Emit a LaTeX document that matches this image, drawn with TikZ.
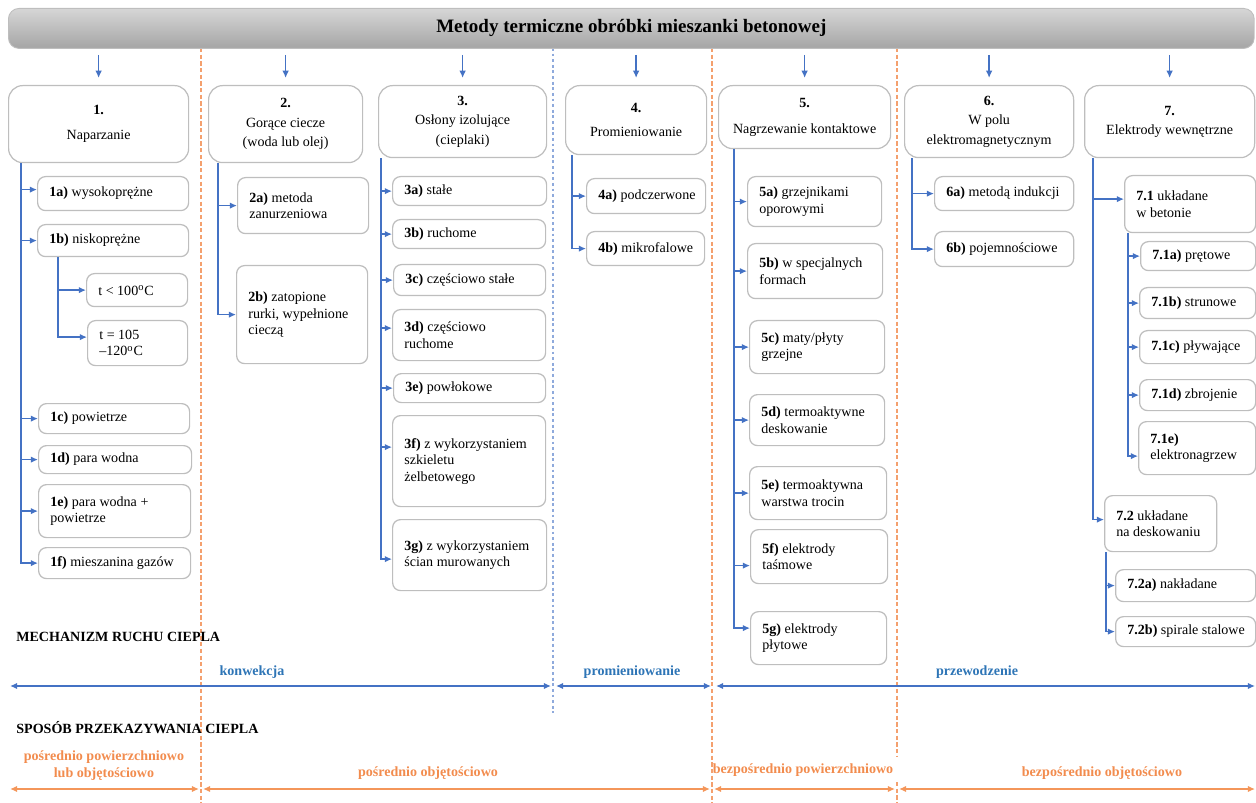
\documentclass[tikz,border=0pt]{standalone}
\usepackage{fontspec}
\setmainfont{Liberation Serif}
\usetikzlibrary{arrows.meta,calc}
\definecolor{lblue}{RGB}{68,114,196}
\definecolor{tblue}{RGB}{46,117,182}
\definecolor{dblue}{RGB}{143,170,220}
\definecolor{oline}{RGB}{244,150,90}
\definecolor{otext}{RGB}{242,140,78}
\definecolor{odash}{RGB}{244,160,110}
\definecolor{bgray}{RGB}{190,190,190}
\definecolor{ttop}{RGB}{214,214,214}
\definecolor{tbot}{RGB}{165,165,165}
\tikzset{
  fnt/.style={font=\fontsize{8}{9.4}\selectfont},
  sbox/.style={draw=bgray, line width=0.7pt, fill=white, rounded corners=4.5pt, inner sep=0pt},
  stext/.style={fnt, align=left, inner sep=0pt},
  mbox/.style={draw=bgray, line width=0.7pt, fill=white, rounded corners=8pt, inner sep=1pt, align=center, font=\fontsize{8}{11}\selectfont},
  conn/.style={draw=lblue, line width=0.8pt, -{Latex[length=4pt,width=3.6pt]}},
  arr/.style={draw=lblue, line width=0.8pt, -{Latex[length=4.2pt,width=3.8pt]}},
  barr/.style={draw=lblue, line width=0.8pt, {Latex[length=4pt,width=3.6pt]}-{Latex[length=4pt,width=3.6pt]}},
  oarr/.style={draw=oline, line width=0.9pt, {Latex[length=4pt,width=3.6pt]}-{Latex[length=4pt,width=3.6pt]}},
  blab/.style={font=\fontsize{8}{9.4}\selectfont\bfseries, text=tblue, inner sep=1pt},
  olab/.style={font=\fontsize{8}{9.6}\selectfont\bfseries, text=otext, inner sep=1pt, align=center},
  hdr/.style={font=\fontsize{8}{9.4}\selectfont\bfseries, inner sep=0pt},
  odashed/.style={draw=odash, line width=0.6pt, dash pattern=on 2.4pt off 1.4pt},
  bdotted/.style={draw=dblue, line width=0.7pt, dash pattern=on 1.6pt off 1.6pt},
}
\newcommand\sbx[6]{%
  \pgfmathsetmacro\bw{(#4-#2)*0.02}\pgfmathsetmacro\bh{(#5-#3)*0.02}%
  \node[sbox, minimum width=\bw cm, minimum height=\bh cm, anchor=north west] (#1) at (#2,#3) {};%
  \node[stext, anchor=west] (#1t) at ($(#1.west)+(12,0)$) {#6};}
\newcommand\mbx[6]{%
  \pgfmathsetmacro\bw{(#4-#2)*0.02}\pgfmathsetmacro\bh{(#5-#3)*0.02}%
  \node[mbox, minimum width=\bw cm, minimum height=\bh cm, anchor=north west] (#1) at (#2,#3) {#6};}
\begin{document}
\begin{tikzpicture}[x=0.02cm,y=-0.02cm]
\useasboundingbox (0,0) rectangle (1256,803);
% separators
\draw[odashed] (201,48) -- (201,803);
\draw[bdotted] (553,48) -- (553,713);
\draw[odashed] (712,48) -- (712,803);
\draw[odashed] (897,48) -- (897,757);
\draw[odashed] (897,782) -- (897,803);
% title
\node[draw=bgray, line width=0.5pt, top color=ttop, bottom color=tbot, rounded corners=6pt,
  minimum width=24.92cm, minimum height=0.8cm, anchor=north west,
  font=\fontsize{10.8}{13}\selectfont\bfseries] (title) at (8,8) {Metody termiczne obróbki mieszanki betonowej};
% main boxes
\mbx{b1}{8}{85}{188}{162}{\textbf{1.}\\[3.5pt]Naparzanie}
\mbx{b2}{208}{85}{362}{162}{\textbf{2.}\\Gorące ciecze\\(woda lub olej)}
\mbx{b3}{378}{85}{546}{157}{\textbf{3.}\\Osłony izolujące\\(cieplaki)}
\mbx{b4}{565}{85}{706}{154}{\textbf{4.}\\[3pt]Promieniowanie}
\mbx{b5}{718}{85}{890}{148}{\textbf{5.}\\[4pt]Nagrzewanie kontaktowe}
\mbx{b6}{904}{85}{1073}{157}{\textbf{6.}\\W polu\\elektromagnetycznym}
\mbx{b7}{1084}{85}{1254}{157}{\textbf{7.}\\Elektrody wewnętrzne}
\foreach \b in {b1,b2,b3,b4,b5,b6,b7}
  \draw[arr] ($(\b.north |- title.south)+(0,6)$) -- ($(\b.north)+(0,-7)$);
% column 1
\sbx{b1a}{37}{176}{188}{210}{\textbf{1a)} wysokoprężne}
\sbx{b1b}{37}{224}{188}{256}{\textbf{1b)} niskoprężne}
\sbx{b1t1}{86}{273}{187}{306}{t < 100\textsuperscript{o}C}
\sbx{b1t2}{87}{320}{187}{365}{t = 105\\–120\textsuperscript{o}C}
\sbx{b1c}{38}{403}{189}{433}{\textbf{1c)} powietrze}
\sbx{b1d}{38}{445}{191}{473}{\textbf{1d)} para wodna}
\sbx{b1e}{38}{484}{190}{537}{\textbf{1e)} para wodna +\\powietrze}
\sbx{b1f}{38}{547}{190}{578}{\textbf{1f)} mieszanina gazów}
\coordinate (t1) at ($(b1.south west)+(13,0)$);
\foreach \c in {b1b,b1c,b1d,b1e,b1f} \draw[conn] (t1) |- (\c.west);
\draw[conn] (t1) |- ($(b1a.west)+(0,-4)$);
\coordinate (t1b) at ($(b1b.south west)+(21,0)$);
\draw[conn] (t1b) |- (b1t1.west);
\draw[conn] (t1b) |- ($(b1t2.west)+(0,-6)$);
% column 2
\sbx{b2a}{237}{177}{368}{233}{\textbf{2a)} metoda\\zanurzeniowa}
\sbx{b2b}{236}{265}{367}{363}{\textbf{2b)} zatopione\\rurki, wypełnione\\cieczą}
\coordinate (t2) at ($(b2.south west)+(10,0)$);
\foreach \c in {b2a,b2b} \draw[conn] (t2) |- (\c.west);
% column 3
\sbx{b3a}{392}{176}{546}{205}{\textbf{3a)} stałe}
\sbx{b3b}{392}{219}{545}{248}{\textbf{3b)} ruchome}
\sbx{b3c}{393}{264}{545}{295}{\textbf{3c)} częściowo stałe}
\sbx{b3d}{392}{309}{545}{360}{\textbf{3d)} częściowo\\ruchome}
\sbx{b3e}{393}{373}{545}{402}{\textbf{3e)} powłokowe}
\sbx{b3f}{392}{415}{545}{506}{\textbf{3f)} z wykorzystaniem\\szkieletu\\żelbetowego}
\sbx{b3g}{392}{519}{546}{590}{\textbf{3g)} z wykorzystaniem\\ścian murowanych}
\coordinate (t3) at ($(b3.south west)+(3,0)$);
\foreach \c in {b3a,b3b,b3c,b3e} \draw[conn] (t3) |- (\c.west);
\draw[conn] (t3) |- ($(b3d.west)+(0,-7)$);
\draw[conn] (t3) |- ($(b3f.west)+(0,-14)$);
\draw[conn] (t3) |- ($(b3g.west)+(0,4)$);
% column 4
\sbx{b4a}{586}{178}{705}{213}{\textbf{4a)} podczerwone}
\sbx{b4b}{586}{231}{704}{265}{\textbf{4b)} mikrofalowe}
\coordinate (t4) at ($(b4.south west)+(7,0)$);
\foreach \c in {b4a,b4b} \draw[conn] (t4) |- (\c.west);
% column 5
\sbx{b5a}{747}{176}{881}{226}{\textbf{5a)} grzejnikami\\oporowymi}
\sbx{b5b}{747}{243}{882}{298}{\textbf{5b)} w specjalnych\\formach}
\sbx{b5c}{749}{320}{884}{373}{\textbf{5c)} maty/płyty\\grzejne}
\sbx{b5d}{749}{394}{884}{445}{\textbf{5d)} termoaktywne\\deskowanie}
\sbx{b5e}{749}{466}{886}{519}{\textbf{5e)} termoaktywna\\warstwa trocin}
\sbx{b5f}{750}{529}{887}{583}{\textbf{5f)} elektrody\\taśmowe}
\sbx{b5g}{750}{611}{886}{664}{\textbf{5g)} elektrody\\płytowe}
\coordinate (t5) at ($(b5.south west)+(16,0)$);
\foreach \c in {b5a,b5b,b5c,b5d,b5e} \draw[conn] (t5) |- (\c.west);
\draw[conn] (t5) |- ($(b5f.west)+(0,9)$);
\draw[conn] (t5) |- ($(b5g.west)+(0,-10)$);
% column 6
\sbx{b6a}{934}{176}{1073}{210}{\textbf{6a)} metodą indukcji}
\sbx{b6b}{934}{231}{1073}{266}{\textbf{6b)} pojemnościowe}
\coordinate (t6) at ($(b6.south west)+(8,0)$);
\foreach \c in {b6a,b6b} \draw[conn] (t6) |- (\c.west);
% column 7
\sbx{b71}{1124}{175}{1255}{232}{\textbf{7.1} układane\\w betonie}
\sbx{b71a}{1140}{241}{1255}{270}{\textbf{7.1a)} prętowe}
\sbx{b71b}{1139}{287}{1255}{318}{\textbf{7.1b)} strunowe}
\sbx{b71c}{1139}{330}{1255}{363}{\textbf{7.1c)} pływające}
\sbx{b71d}{1139}{379}{1255}{410}{\textbf{7.1d)} zbrojenie}
\sbx{b71e}{1138}{421}{1255}{474}{\textbf{7.1e)}\\elektronagrzew}
\sbx{b72}{1104}{495}{1216}{551}{\textbf{7.2} układane\\na deskowaniu}
\sbx{b72a}{1115}{569}{1255}{601}{\textbf{7.2a)} nakładane}
\sbx{b72b}{1115}{616}{1255}{646}{\textbf{7.2b)} spirale stalowe}
\coordinate (t7) at ($(b7.south west)+(9,0)$);
\draw[conn] (t7) |- ($(b71.west)+(0,-5)$);
\draw[conn] (t7) |- ($(b72.west)+(0,-4)$);
\coordinate (t71) at ($(b71.south west)+(4,0)$);
\foreach \c in {b71a,b71b,b71c,b71d} \draw[conn] (t71) |- (\c.west);
\draw[conn] (t71) |- ($(b71e.west)+(0,8)$);
\coordinate (t72) at ($(b72.south west)+(2,0)$);
\foreach \c in {b72a,b72b} \draw[conn] (t72) |- (\c.west);
% bottom: mechanism
\node[hdr, anchor=west] (mech) at (16,637) {MECHANIZM RUCHU CIEPLA};
\coordinate (ka) at (10,686); \coordinate (kb) at (551,686);
\coordinate (pa) at (556,686); \coordinate (pb) at (711,686);
\coordinate (za) at (716,686); \coordinate (zb) at (1255,686);
\draw[barr] (ka) -- (kb);
\draw[barr] (pa) -- (pb);
\draw[barr] (za) -- (zb);
\node[blab] (lk) at (252,672) {konwekcja};
\node[blab] (lp) at (632,672) {promieniowanie};
\node[blab] (lz) at (977,672) {przewodzenie};
% bottom: transfer
\node[hdr, anchor=west] (spos) at (16,728) {SPOSÓB PRZEKAZYWANIA CIEPLA};
\coordinate (o1a) at (10,789); \coordinate (o1b) at (199,789);
\coordinate (o2a) at (203,789); \coordinate (o2b) at (710,789);
\coordinate (o3a) at (714,789); \coordinate (o3b) at (895,789);
\coordinate (o4a) at (899,789); \coordinate (o4b) at (1255,789);
\draw[oarr] (o1a) -- (o1b);
\draw[oarr] (o2a) -- (o2b);
\draw[oarr] (o3a) -- (o3b);
\draw[oarr] (o4a) -- (o4b);
\node[olab] (l1) at (104,766) {pośrednio powierzchniowo\\lub objętościowo};
\node[olab] (l2) at (428,773) {pośrednio objętościowo};
\node[olab] (l3) at (803,770) {bezpośrednio powierzchniowo};
\node[olab] (l4) at (1102,773) {bezpośrednio objętościowo};
\end{tikzpicture}
\end{document}
